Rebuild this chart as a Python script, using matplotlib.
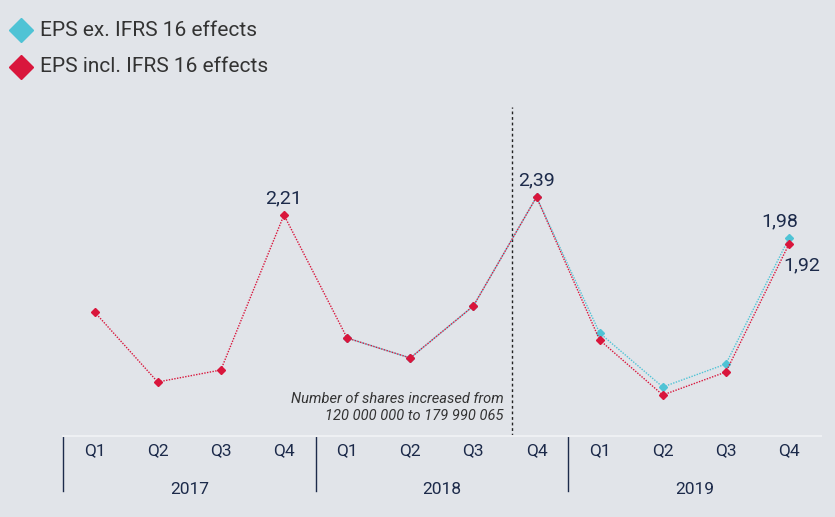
import matplotlib.pyplot as plt
import matplotlib.transforms as mtransforms
from matplotlib.lines import Line2D

quarters = ['Q1', 'Q2', 'Q3', 'Q4'] * 3
years = ['2017', '2018', '2019']
eps_incl = [1.24, 0.54, 0.66, 2.21, 0.98, 0.78, 1.30, 2.39, 0.96, 0.41, 0.64, 1.92]
eps_ex = [None, None, None, None, 0.98, 0.78, 1.30, 2.39, 1.03, 0.49, 0.72, 1.98]

bg = '#e1e4e9'
red = '#d9163c'
cyan = '#4fc3d5'
navy = '#1c2a4a'

plt.rcParams['font.family'] = ['Roboto', 'DejaVu Sans']

fig = plt.figure(figsize=(8.35, 5.17), dpi=100, facecolor=bg)
ax = fig.add_axes([63 / 835, 81 / 517, 757.6 / 835, 329 / 517])
ax.set_facecolor(bg)

x = list(range(len(quarters)))
xe = [i for i, v in zip(x, eps_ex) if v is not None]
ye = [v for v in eps_ex if v is not None]

ax.plot(xe, ye, color=cyan, linewidth=1.0, linestyle=(1, (1, 1)),
        marker='D', markersize=4.5, zorder=3)
ax.plot(x, eps_incl, color=red, linewidth=1.0, linestyle=(0, (1, 1)),
        marker='D', markersize=4.5, zorder=4)

ax.set_xlim(-0.5, 11.5)
ax.set_ylim(0, 3.29)
ax.set_yticks([])
ax.set_xticks([])
for s in ['top', 'right', 'left']:
    ax.spines[s].set_visible(False)
ax.spines['bottom'].set_color('#eef0f3')
ax.spines['bottom'].set_linewidth(1.5)

# value labels
ax.text(3, 2.21 + 0.08, '2,21', ha='center', va='bottom', fontsize=14, color=navy)
ax.text(7, 2.39 + 0.08, '2,39', ha='center', va='bottom', fontsize=14, color=navy)
ax.text(11 - 0.15, 1.98 + 0.08, '1,98', ha='center', va='bottom', fontsize=14, color=navy)
ax.text(11 + 0.2, 1.92 - 0.12, '1,92', ha='center', va='top', fontsize=14, color=navy)

# dotted divider and note
ax.axvline(6.61, color='#222222', linewidth=1, linestyle=(0, (2, 2)))
ax.text(6.48, 0.285, 'Number of shares increased from\n120 000 000 to 179 990 065',
        ha='right', va='center', fontsize=10.5, style='italic', color='#333333',
        linespacing=1.35)

# category axis
trans = mtransforms.blended_transform_factory(ax.transData, ax.transAxes)
for i, q in enumerate(quarters):
    ax.text(i, -0.022, q, transform=trans, ha='center', va='top',
            fontsize=12.5, color=navy)
for k, yr in enumerate(years):
    ax.text(4 * k + 1.5, -0.14, yr, transform=trans, ha='center', va='top',
            fontsize=12.5, color=navy)
for k in range(3):
    ax.plot([4 * k - 0.5, 4 * k - 0.5], [0, -0.167], transform=trans,
            color=navy, linewidth=1, clip_on=False)

# legend
legend_items = [('EPS ex. IFRS 16 effects', cyan), ('EPS incl. IFRS 16 effects', red)]
for n, (label, col) in enumerate(legend_items):
    yy = 1 - (30 + 37 * n) / 517
    fig.add_artist(Line2D([21 / 835], [yy], linestyle='none', marker='D',
                          markersize=12.5, color=col, transform=fig.transFigure))
    fig.text(40 / 835, yy, label, ha='left', va='center', fontsize=15,
             color='#333333')

fig.savefig('out.png', dpi=100, facecolor=bg)
